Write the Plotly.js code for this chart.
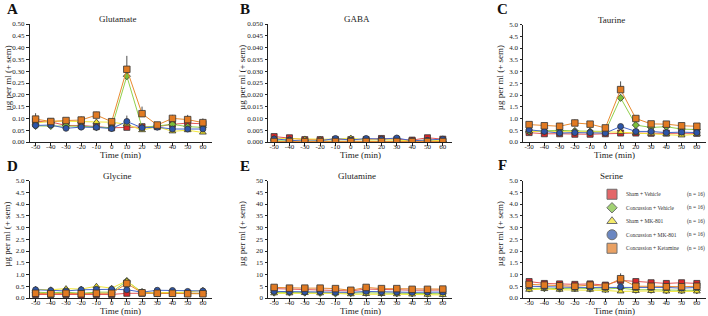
<!DOCTYPE html>
<html>
<head>
<meta charset="utf-8">
<script src="https://cdn.plot.ly/plotly-3.0.1.min.js"></script>
<style>html,body{margin:0;padding:0;background:#fff;}#chart{width:708px;height:316px;}</style>
</head>
<body>
<div id="chart"></div>
<script>
// Sampling times (min relative to injury)
const times = [-50, -40, -30, -20, -10, 0, 10, 20, 30, 40, 50, 60];

// Treatment groups
const groupNames = ["Sham + Vehicle", "Concussion + Vehicle", "Sham + MK-801", "Concussion + MK-801", "Concussion + Ketamine"];
const groupN = [16, 16, 16, 16, 16];

// Glutamate (µg/ml)
const glutamate_shamVeh   = [0.088, 0.085, 0.070, 0.070, 0.065, 0.060, 0.062, 0.065, 0.065, 0.075, 0.080, 0.077];
const glutamate_concVeh   = [0.068, 0.068, 0.070, 0.067, 0.063, 0.060, 0.279, 0.062, 0.068, 0.075, 0.065, 0.062];
const glutamate_shamMK    = [0.080, 0.088, 0.088, 0.088, 0.085, 0.084, 0.075, 0.050, 0.065, 0.045, 0.050, 0.040];
const glutamate_concMK    = [0.070, 0.072, 0.058, 0.063, 0.062, 0.057, 0.087, 0.060, 0.063, 0.055, 0.055, 0.055];
const glutamate_concKet   = [0.097, 0.087, 0.091, 0.093, 0.114, 0.086, 0.308, 0.120, 0.072, 0.100, 0.095, 0.082];
const glutamate_semShamVeh = [0.006, 0.004, 0.004, 0.005, 0.004, 0.004, 0.006, 0.004, 0.004, 0.005, 0.006, 0.005];
const glutamate_semConcVeh = [0.005, 0.004, 0.005, 0.005, 0.004, 0.004, 0.012, 0.004, 0.004, 0.005, 0.005, 0.004];
const glutamate_semShamMK  = [0.005, 0.005, 0.005, 0.006, 0.006, 0.005, 0.005, 0.004, 0.004, 0.004, 0.004, 0.004];
const glutamate_semConcMK  = [0.005, 0.004, 0.004, 0.005, 0.004, 0.004, 0.025, 0.004, 0.004, 0.004, 0.004, 0.004];
const glutamate_semConcKet = [0.025, 0.006, 0.008, 0.015, 0.014, 0.010, 0.057, 0.030, 0.010, 0.015, 0.020, 0.018];

// GABA (µg/ml)
const gaba_shamVeh = [0.0023, 0.0018, 0.0010, 0.0010, 0.0010, 0.0010, 0.0010, 0.0015, 0.0010, 0.0008, 0.0018, 0.0012];
const gaba_concVeh = [0.0005, 0.0004, 0.0003, 0.0003, 0.0003, 0.0003, 0.0003, 0.0003, 0.0003, 0.0003, 0.0003, 0.0003];
const gaba_shamMK  = [0.0015, 0.0013, 0.0013, 0.0012, 0.0012, 0.0017, 0.0008, 0.0010, 0.0008, 0.0005, 0.0008, 0.0005];
const gaba_concMK  = [0.0013, 0.0008, 0.0003, 0.0005, 0.0015, 0.0008, 0.0015, 0.0012, 0.0017, 0.0005, 0.0007, 0.0012];
const gaba_concKet = [0.0002, 0.0002, 0.0002, 0.0002, 0.0002, 0.0002, 0.0002, 0.0002, 0.0002, 0.0002, 0.0002, 0.0002];
const gaba_semShamVeh = [0.0003, 0.0003, 0.0002, 0.0002, 0.0002, 0.0002, 0.0002, 0.0003, 0.0002, 0.0002, 0.0003, 0.0002];
const gaba_semConcVeh = [0.0001, 0.0001, 0.0001, 0.0001, 0.0001, 0.0001, 0.0001, 0.0001, 0.0001, 0.0001, 0.0001, 0.0001];
const gaba_semShamMK  = [0.0002, 0.0002, 0.0002, 0.0002, 0.0002, 0.0007, 0.0002, 0.0002, 0.0002, 0.0001, 0.0002, 0.0001];
const gaba_semConcMK  = [0.0002, 0.0002, 0.0001, 0.0001, 0.0002, 0.0002, 0.0002, 0.0002, 0.0003, 0.0001, 0.0001, 0.0002];
const gaba_semConcKet = [0.0001, 0.0001, 0.0001, 0.0001, 0.0001, 0.0001, 0.0001, 0.0001, 0.0001, 0.0001, 0.0001, 0.0001];

// Taurine (µg/ml)
const taurine_shamVeh = [0.40, 0.35, 0.35, 0.33, 0.33, 0.35, 0.38, 0.38, 0.37, 0.38, 0.38, 0.37];
const taurine_concVeh = [0.45, 0.47, 0.50, 0.47, 0.45, 0.45, 1.88, 0.72, 0.62, 0.65, 0.55, 0.53];
const taurine_shamMK  = [0.45, 0.45, 0.45, 0.45, 0.43, 0.43, 0.42, 0.38, 0.35, 0.33, 0.28, 0.33];
const taurine_concMK  = [0.52, 0.45, 0.38, 0.40, 0.40, 0.38, 0.66, 0.45, 0.45, 0.40, 0.42, 0.40];
const taurine_concKet = [0.74, 0.69, 0.67, 0.81, 0.76, 0.60, 2.23, 1.00, 0.77, 0.76, 0.69, 0.67];
const taurine_semShamVeh = [0.04, 0.03, 0.03, 0.03, 0.03, 0.03, 0.04, 0.03, 0.03, 0.03, 0.03, 0.03];
const taurine_semConcVeh = [0.04, 0.04, 0.04, 0.04, 0.04, 0.04, 0.12, 0.06, 0.05, 0.05, 0.04, 0.04];
const taurine_semShamMK  = [0.04, 0.03, 0.03, 0.03, 0.03, 0.03, 0.05, 0.03, 0.03, 0.03, 0.03, 0.03];
const taurine_semConcMK  = [0.05, 0.04, 0.03, 0.04, 0.04, 0.03, 0.10, 0.04, 0.04, 0.03, 0.04, 0.03];
const taurine_semConcKet = [0.05, 0.05, 0.05, 0.15, 0.06, 0.05, 0.35, 0.12, 0.06, 0.07, 0.05, 0.05];

// Glycine (µg/ml)
const glycine_shamVeh = [0.15, 0.15, 0.15, 0.12, 0.15, 0.15, 0.20, 0.20, 0.20, 0.20, 0.20, 0.20];
const glycine_concVeh = [0.25, 0.22, 0.25, 0.20, 0.25, 0.25, 0.72, 0.25, 0.20, 0.25, 0.20, 0.20];
const glycine_shamMK  = [0.37, 0.35, 0.40, 0.38, 0.50, 0.42, 0.73, 0.22, 0.22, 0.25, 0.25, 0.33];
const glycine_concMK  = [0.35, 0.32, 0.30, 0.35, 0.37, 0.37, 0.35, 0.25, 0.33, 0.32, 0.28, 0.30];
const glycine_concKet = [0.20, 0.18, 0.20, 0.18, 0.20, 0.20, 0.62, 0.22, 0.20, 0.20, 0.18, 0.18];
const glycine_semShamVeh = [0.02, 0.02, 0.02, 0.02, 0.02, 0.02, 0.02, 0.02, 0.02, 0.02, 0.02, 0.02];
const glycine_semConcVeh = [0.03, 0.03, 0.03, 0.03, 0.03, 0.03, 0.08, 0.03, 0.03, 0.03, 0.03, 0.03];
const glycine_semShamMK  = [0.03, 0.03, 0.04, 0.03, 0.05, 0.04, 0.08, 0.03, 0.03, 0.03, 0.03, 0.03];
const glycine_semConcMK  = [0.03, 0.03, 0.03, 0.03, 0.03, 0.03, 0.04, 0.03, 0.03, 0.03, 0.03, 0.03];
const glycine_semConcKet = [0.02, 0.02, 0.02, 0.02, 0.02, 0.02, 0.07, 0.02, 0.02, 0.02, 0.02, 0.02];

// Glutamine (µg/ml)
const glutamine_shamVeh = [4.0, 3.8, 3.8, 3.6, 3.5, 3.0, 3.8, 3.5, 3.5, 3.3, 3.2, 3.4];
const glutamine_concVeh = [2.3, 2.4, 2.3, 2.2, 2.0, 2.1, 2.2, 2.1, 2.0, 2.0, 1.8, 1.8];
const glutamine_shamMK  = [2.0, 2.0, 2.1, 2.0, 2.0, 1.6, 1.7, 1.7, 1.6, 1.5, 1.4, 1.3];
const glutamine_concMK  = [2.8, 2.7, 2.6, 2.7, 2.4, 2.4, 2.8, 2.6, 2.5, 2.4, 2.5, 2.5];
const glutamine_concKet = [4.5, 4.2, 4.2, 4.2, 4.0, 3.3, 4.5, 4.0, 4.0, 3.7, 3.7, 3.8];
const glutamine_semShamVeh = [0.3, 0.3, 0.3, 0.3, 0.3, 0.3, 0.3, 0.3, 0.3, 0.3, 0.3, 0.3];
const glutamine_semConcVeh = [0.2, 0.2, 0.2, 0.2, 0.2, 0.2, 0.2, 0.2, 0.2, 0.2, 0.2, 0.2];
const glutamine_semShamMK  = [0.2, 0.2, 0.2, 0.2, 0.2, 0.2, 0.2, 0.2, 0.2, 0.2, 0.2, 0.2];
const glutamine_semConcMK  = [0.3, 0.3, 0.3, 0.3, 0.3, 0.3, 0.3, 0.3, 0.3, 0.3, 0.3, 0.3];
const glutamine_semConcKet = [0.4, 0.3, 0.3, 0.3, 0.3, 0.3, 0.4, 0.3, 0.3, 0.3, 0.3, 0.3];

// Serine (µg/ml)
const serine_shamVeh = [0.70, 0.62, 0.60, 0.58, 0.60, 0.55, 0.75, 0.70, 0.65, 0.62, 0.65, 0.62];
const serine_concVeh = [0.40, 0.42, 0.40, 0.42, 0.40, 0.38, 0.42, 0.35, 0.35, 0.33, 0.33, 0.33];
const serine_shamMK  = [0.35, 0.38, 0.35, 0.35, 0.35, 0.32, 0.28, 0.30, 0.30, 0.28, 0.28, 0.28];
const serine_concMK  = [0.50, 0.48, 0.45, 0.45, 0.45, 0.45, 0.48, 0.45, 0.45, 0.45, 0.42, 0.45];
const serine_concKet = [0.58, 0.55, 0.52, 0.50, 0.55, 0.50, 0.82, 0.50, 0.50, 0.48, 0.48, 0.50];
const serine_semShamVeh = [0.05, 0.04, 0.04, 0.04, 0.04, 0.04, 0.06, 0.05, 0.04, 0.04, 0.05, 0.04];
const serine_semConcVeh = [0.03, 0.03, 0.03, 0.03, 0.03, 0.03, 0.04, 0.03, 0.03, 0.03, 0.03, 0.03];
const serine_semShamMK  = [0.03, 0.03, 0.03, 0.03, 0.03, 0.03, 0.03, 0.03, 0.03, 0.03, 0.03, 0.03];
const serine_semConcMK  = [0.04, 0.04, 0.04, 0.04, 0.04, 0.04, 0.05, 0.04, 0.04, 0.04, 0.04, 0.04];
const serine_semConcKet = [0.05, 0.04, 0.04, 0.04, 0.04, 0.04, 0.23, 0.05, 0.04, 0.04, 0.04, 0.04];

// Panel labels, analyte titles and y-axis ticks
const panelLetters = ["A", "B", "C", "D", "E", "F"];
const analytes = ["Glutamate", "GABA", "Taurine", "Glycine", "Glutamine", "Serine"];
const yMax = [0.5, 0.05, 5, 5, 50, 5];
const yStep = [0.05, 0.005, 0.5, 0.5, 5, 0.5];
const yFormat = [".2f", ".3f", ".1f", ".1f", "d", ".1f"];

const panelMeans = [
  [glutamate_shamVeh, glutamate_concVeh, glutamate_shamMK, glutamate_concMK, glutamate_concKet],
  [gaba_shamVeh, gaba_concVeh, gaba_shamMK, gaba_concMK, gaba_concKet],
  [taurine_shamVeh, taurine_concVeh, taurine_shamMK, taurine_concMK, taurine_concKet],
  [glycine_shamVeh, glycine_concVeh, glycine_shamMK, glycine_concMK, glycine_concKet],
  [glutamine_shamVeh, glutamine_concVeh, glutamine_shamMK, glutamine_concMK, glutamine_concKet],
  [serine_shamVeh, serine_concVeh, serine_shamMK, serine_concMK, serine_concKet]
];
const panelSem = [
  [glutamate_semShamVeh, glutamate_semConcVeh, glutamate_semShamMK, glutamate_semConcMK, glutamate_semConcKet],
  [gaba_semShamVeh, gaba_semConcVeh, gaba_semShamMK, gaba_semConcMK, gaba_semConcKet],
  [taurine_semShamVeh, taurine_semConcVeh, taurine_semShamMK, taurine_semConcMK, taurine_semConcKet],
  [glycine_semShamVeh, glycine_semConcVeh, glycine_semShamMK, glycine_semConcMK, glycine_semConcKet],
  [glutamine_semShamVeh, glutamine_semConcVeh, glutamine_semShamMK, glutamine_semConcMK, glutamine_semConcKet],
  [serine_semShamVeh, serine_semConcVeh, serine_semShamMK, serine_semConcMK, serine_semConcKet]
];

// Group styling
const fillColors = ["#d8272a", "#7bbf3a", "#f1e32a", "#2d55a8", "#e17a22"];
const lineColors = ["#e45656", "#91d04c", "#f2e63a", "#4567c9", "#e98a30"];
const symbols = ["square", "diamond", "triangle-up", "circle", "square"];
const markerSizes = [6, 5.5, 6, 6, 6.5];
const legendSizes = [10, 8, 9, 10, 10];

const W = 708, H = 316;
const FONT = '"Liberation Serif", "Times New Roman", serif';
// Plot areas in pixels: [left, right, top, bottom]
const boxes = [
  [29.5, 212, 24, 142], [268, 452, 24, 142], [523, 706, 24.5, 142],
  [29.5, 212, 180.5, 298], [268, 452, 180.5, 298], [523, 706, 180.5, 298]
];
const letterPos = [[12, 9], [245, 9], [502, 9], [12, 166], [245, 166], [502, 165]];

const px2x = p => p / W;
const px2y = p => 1 - p / H;

const traces = [];
const layout = {
  width: W, height: H,
  margin: {l: 0, r: 0, t: 0, b: 0},
  paper_bgcolor: "#ffffff",
  plot_bgcolor: "rgba(0,0,0,0)",
  showlegend: false,
  font: {family: FONT, color: "#222"},
  annotations: []
};

boxes.forEach((b, i) => {
  const n = i + 1;
  const xa = n === 1 ? "xaxis" : "xaxis" + n;
  const ya = n === 1 ? "yaxis" : "yaxis" + n;
  layout[xa] = {
    domain: [px2x(b[0]), px2x(b[1])],
    range: [-54, 66],
    tickvals: times, ticktext: times.map(String),
    ticks: "outside", ticklen: 2.5, tickwidth: 1, tickcolor: "#222",
    ticklabelstandoff: -5,
    showline: true, linecolor: "#222", linewidth: 1,
    showgrid: false, zeroline: false,
    tickfont: {family: FONT, size: 7, color: "#222"},
    anchor: n === 1 ? "y" : "y" + n, fixedrange: true
  };
  layout[ya] = {
    domain: [px2y(b[3]), px2y(b[2])],
    range: [0, yMax[i]],
    dtick: yStep[i], tick0: 0, tickformat: yFormat[i],
    ticks: "outside", ticklen: 2.5, tickwidth: 1, tickcolor: "#222",
    showline: true, linecolor: "#222", linewidth: 1,
    showgrid: false, zeroline: false,
    tickfont: {family: FONT, size: 7, color: "#222"},
    anchor: n === 1 ? "x" : "x" + n, fixedrange: true
  };

  panelMeans[i].forEach((vals, g) => {
    traces.push({
      type: "scatter", mode: "lines+markers",
      x: times, y: vals,
      xaxis: n === 1 ? "x" : "x" + n, yaxis: n === 1 ? "y" : "y" + n,
      line: {color: lineColors[g], width: 1},
      marker: {symbol: symbols[g], size: markerSizes[g], color: fillColors[g], line: {color: "#333", width: 0.8}},
      error_y: {type: "data", array: panelSem[i][g], arrayminus: panelSem[i][g].map(() => 0), symmetric: false,
                color: "#222", thickness: 0.8, width: 0},
      name: groupNames[g], hoverinfo: "skip"
    });
  });

  const cx = (b[0] + b[1]) / 2;
  // analyte title
  layout.annotations.push({xref: "paper", yref: "paper", x: px2x(cx - 3), y: px2y(b[2] - 5),
    text: analytes[i], showarrow: false, xanchor: "center", yanchor: "middle",
    font: {family: FONT, size: 9, color: "#222"}});
  // x-axis title
  layout.annotations.push({xref: "paper", yref: "paper", x: px2x(cx), y: px2y(Math.min(b[3] + 13, 310.5)),
    text: "Time (min)", showarrow: false, xanchor: "center", yanchor: "middle", borderpad: 0,
    font: {family: FONT, size: 9, color: "#222"}});
  // y-axis title
  const yTitleX = i % 3 === 0 ? b[0] - 22 : (i % 3 === 1 ? b[0] - 26 : b[0] - 23);
  layout.annotations.push({xref: "paper", yref: "paper", x: px2x(yTitleX), y: px2y((b[2] + b[3]) / 2 - 5),
    text: "µg per ml (+ sem)", textangle: -90, showarrow: false, xanchor: "center", yanchor: "middle",
    font: {family: FONT, size: 9, color: "#222"}});
  // panel letter
  layout.annotations.push({xref: "paper", yref: "paper", x: px2x(letterPos[i][0]), y: px2y(letterPos[i][1]),
    text: "<b>" + panelLetters[i] + "</b>", showarrow: false, xanchor: "center", yanchor: "middle",
    font: {family: FONT, size: 15, color: "#111"}});
});

// Key for the groups, laid out on its own hidden axis pair inside panel F
const keyRows = groupNames.map((_, g) => g);
layout.xaxis7 = {domain: [px2x(600), px2x(708)], range: [0, 9], visible: false, fixedrange: true, anchor: "y7"};
layout.yaxis7 = {domain: [px2y(255), px2y(187.5)], range: [4.5, -0.5], visible: false, fixedrange: true, anchor: "x7"};
traces.push({
  type: "scatter", mode: "markers", xaxis: "x7", yaxis: "y7",
  x: keyRows.map(() => 1), y: keyRows,
  marker: {symbol: symbols, size: legendSizes, color: fillColors, line: {color: "#333", width: 1}},
  hoverinfo: "skip"
});
keyRows.forEach(g => {
  layout.annotations.push({xref: "x7", yref: "y7", x: 2, y: g, text: groupNames[g], showarrow: false,
    xanchor: "left", yanchor: "middle", font: {family: FONT, size: 5.5, color: "#333"}});
  layout.annotations.push({xref: "x7", yref: "y7", x: 7.1, y: g, text: "(n = " + groupN[g] + ")", showarrow: false,
    xanchor: "left", yanchor: "middle", font: {family: FONT, size: 5.5, color: "#333"}});
});

Plotly.newPlot("chart", traces, layout, {displayModeBar: false, staticPlot: true});
</script>
</body>
</html>
